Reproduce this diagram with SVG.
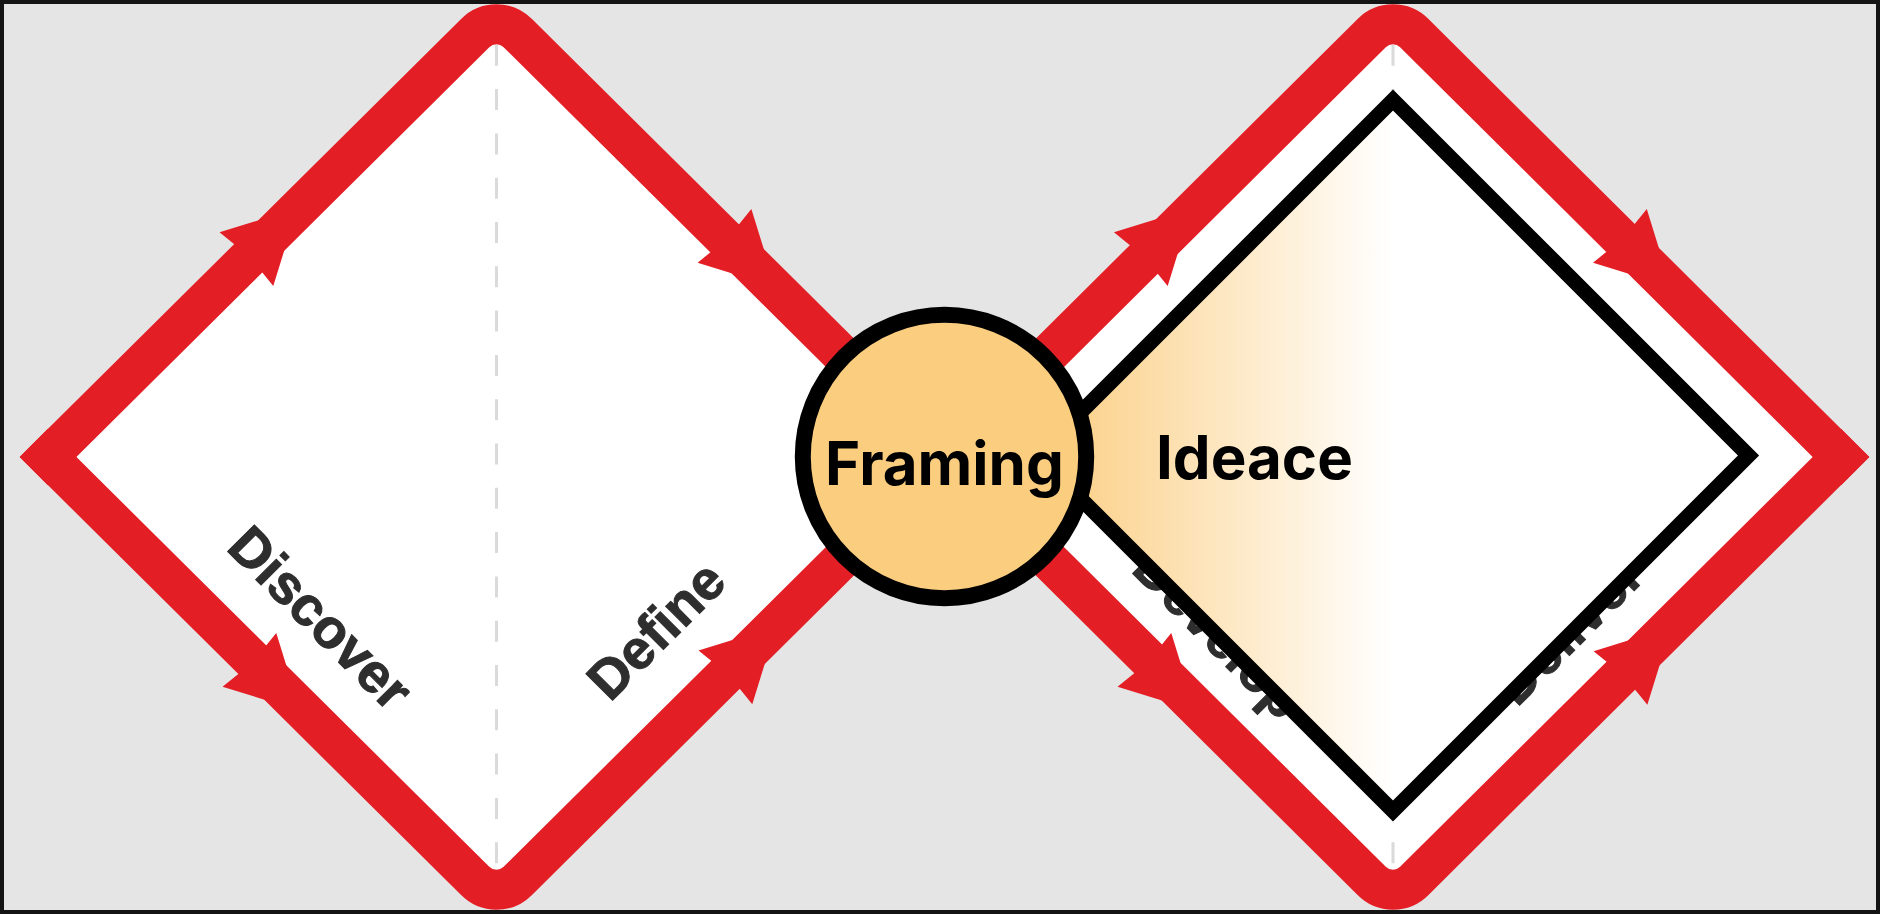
<svg xmlns="http://www.w3.org/2000/svg" xmlns:xlink="http://www.w3.org/1999/xlink" width="1880" height="914" viewBox="0 0 1880 914">
<style>
.bg{fill:#e5e5e5;stroke:#141414;stroke-width:4}
.dfill{fill:#ffffff}
.dash{fill:none;stroke:#dadada;stroke-width:3;stroke-dasharray:21 23.3;stroke-dashoffset:32.5}
.edge{fill:none;stroke:#e31e25;stroke-width:40;stroke-linecap:square;stroke-linejoin:round}
.arrow{fill:#e31e25}
.phase{font-family:"Liberation Sans",Arial,sans-serif;font-weight:700;font-size:55px;fill:#2e2e2e;stroke:#2e2e2e;stroke-width:1;text-rendering:geometricPrecision}
.title{font-family:Inter,"Noto Sans",sans-serif;font-weight:700;font-size:60px;fill:#000000}
.inner{stroke:#000000;stroke-width:15;stroke-linejoin:miter}
.ring{fill:#fbcd7f;stroke:#000000;stroke-width:16}
</style>
<defs>
<linearGradient id="ideaGrad" x1="0" y1="0" x2="1" y2="0">
<stop offset="0" stop-color="#fbcd7f"/>
<stop offset="0.5" stop-color="#ffffff"/>
<stop offset="1" stop-color="#ffffff"/>
</linearGradient>
<polygon id="ah" points="72,0 0,-38 4,0 0,38"/>
</defs>
<rect class="bg" x="2" y="2" width="1876" height="910"/>

<g id="diamond-discover-define">
<path class="dfill" d="M48,457 L475.2,33.1 A30,30 0 0 1 517.8,33.1 L945,457 L517.8,880.9 A30,30 0 0 1 475.2,880.9 Z"/>
<line class="dash" x1="496.5" y1="33" x2="496.5" y2="881"/>
<text class="phase" transform="translate(225,549) rotate(45)">Discover</text>
<text class="phase" transform="translate(610,703) rotate(-45)">Define</text>
</g>

<g id="diamond-develop-deliver">
<path class="dfill" d="M945,457 L1371.7,33.1 A30,30 0 0 1 1414.3,33.1 L1841,457 L1414.3,880.9 A30,30 0 0 1 1371.7,880.9 Z"/>
<line class="dash" x1="1393" y1="33" x2="1393" y2="881"/>
<text class="phase" transform="translate(1130,571) rotate(45)">Develop</text>
<text class="phase" transform="translate(1517,708) rotate(-45)">Deliver</text>
</g>

<g id="connectors">
<path class="edge" d="M48,457 L475.2,33.1 A30,30 0 0 1 517.8,33.1 L945,457"/>
<path class="edge" d="M48,457 L475.2,880.9 A30,30 0 0 0 517.8,880.9 L945,457"/>
<path class="edge" d="M945,457 L1371.7,33.1 A30,30 0 0 1 1414.3,33.1 L1841,457"/>
<path class="edge" d="M945,457 L1371.7,880.9 A30,30 0 0 0 1414.3,880.9 L1841,457"/>
<use class="arrow" xlink:href="#ah" href="#ah" transform="translate(246.4,259.2) rotate(-45)"/>
<use class="arrow" xlink:href="#ah" href="#ah" transform="translate(724.5,235.8) rotate(45)"/>
<use class="arrow" xlink:href="#ah" href="#ah" transform="translate(249.4,659.8) rotate(45)"/>
<use class="arrow" xlink:href="#ah" href="#ah" transform="translate(725.4,677.3) rotate(-45)"/>
<use class="arrow" xlink:href="#ah" href="#ah" transform="translate(1140.8,259.2) rotate(-45)"/>
<use class="arrow" xlink:href="#ah" href="#ah" transform="translate(1619.9,235.8) rotate(45)"/>
<use class="arrow" xlink:href="#ah" href="#ah" transform="translate(1144.4,659.8) rotate(45)"/>
<use class="arrow" xlink:href="#ah" href="#ah" transform="translate(1620.5,678) rotate(-45)"/>
</g>

<g id="ideace">
<path class="inner" fill="url(#ideaGrad)" d="M1037.5,455.5 L1393,100 L1748.5,455.5 L1393,811 Z"/>
<text class="title" x="1156" y="479">Ideace</text>
</g>

<g id="framing">
<circle class="ring" cx="944.5" cy="456.5" r="141.7"/>
<text class="title" x="944.5" y="485" text-anchor="middle">Framing</text>
</g>
</svg>
